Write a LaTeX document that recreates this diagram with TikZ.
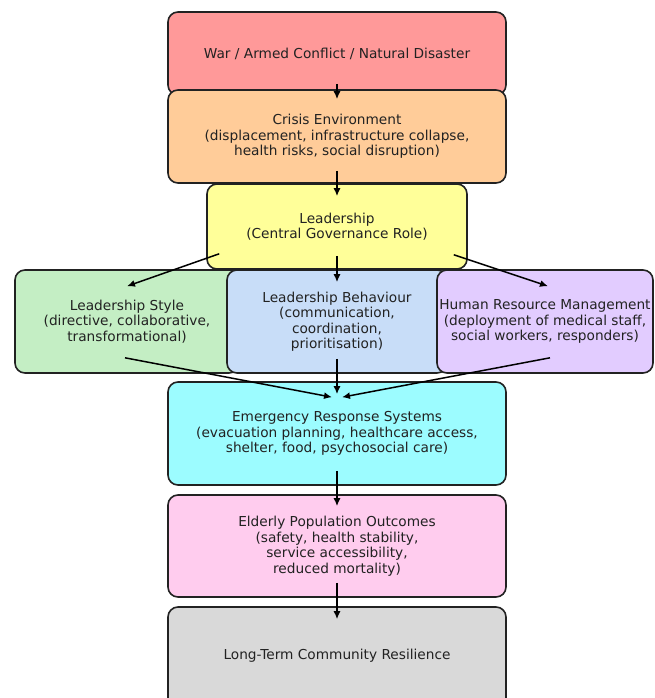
\documentclass[tikz,border=0pt]{standalone}
\usepackage{fontspec}
\setmainfont{DejaVu Sans}
\usetikzlibrary{arrows.meta,calc}
\definecolor{cred}{HTML}{FF9999}
\definecolor{corange}{HTML}{FFCC99}
\definecolor{cyellow}{HTML}{FFFF99}
\definecolor{cgreen}{HTML}{C4EEC4}
\definecolor{cblue}{HTML}{C8DDF8}
\definecolor{cpurple}{HTML}{E2CCFF}
\definecolor{ccyan}{HTML}{9CFCFF}
\definecolor{cpink}{HTML}{FFCCEE}
\definecolor{cgray}{HTML}{D9D9D9}
\definecolor{ink}{HTML}{222222}
\tikzset{
  box/.style={draw=ink, line width=1.6pt, rounded corners=10pt, inner sep=0pt,
    align=center, text=ink, font=\fontsize{13.7}{15.5}\selectfont},
  arr/.style={draw=black, line width=1.5pt, -{Latex[length=8pt,width=7pt]}}
}
\begin{document}
\begin{tikzpicture}[x=1pt,y=-1pt]
\useasboundingbox (0,0) rectangle (654,698);
\fill[white] (0,0) rectangle (654,698);
\node[box, fill=cred, minimum width=338pt, minimum height=83pt] (b1) at (337,53.5)
  {War / Armed Conflict / Natural Disaster};
\node[box, fill=corange, minimum width=338pt, minimum height=93pt] (b2) at (337,136.5)
  {Crisis Environment\\(displacement, infrastructure collapse,\\health risks, social disruption)};
\node[box, fill=cyellow, minimum width=260pt, minimum height=85pt] (b3) at (337,226.5)
  {Leadership\\(Central Governance Role)};
\node[box, fill=cgreen, minimum width=224pt, minimum height=103pt] (sty) at (127,321.5)
  {Leadership Style\\(directive, collaborative,\\transformational)};
\node[box, fill=cblue, minimum width=220pt, minimum height=103pt] (beh) at (337,321.5)
  {Leadership Behaviour\\(communication,\\coordination,\\prioritisation)};
\node[box, fill=cpurple, minimum width=216pt, minimum height=103pt] (hrm) at (545,321.5)
  {Human Resource Management\\(deployment of medical staff,\\social workers, responders)};
\node[box, fill=ccyan, minimum width=338pt, minimum height=103pt] (ers) at (337,433.5)
  {Emergency Response Systems\\(evacuation planning, healthcare access,\\shelter, food, psychosocial care)};
\node[box, fill=cpink, minimum width=338pt, minimum height=102pt] (epo) at (337,546)
  {Elderly Population Outcomes\\(safety, health stability,\\service accessibility,\\reduced mortality)};
\node[box, fill=cgray, minimum width=338pt, minimum height=102pt] (ltr) at (337,658)
  {\raisebox{8pt}{Long-Term Community Resilience}};
% connectors
\draw[arr] ([yshift=12pt]b1.south) -- ([yshift=-10pt]b2.north);
\draw[arr] ([yshift=13pt]b2.south) -- ([yshift=-13pt]b3.north);
\draw[arr] ([yshift=14pt]b3.south) -- ([yshift=-13pt]beh.north);
\draw[arr] ([shift={(13pt,16pt)}]b3.south west) -- ([yshift=-17pt]sty.north);
\draw[arr] ([shift={(-14pt,15pt)}]b3.south east) -- ([shift={(3pt,-17pt)}]hrm.north);
\draw[arr] ([shift={(-2pt,16pt)}]sty.south) -- ([shift={(-5pt,-16pt)}]ers.north);
\draw[arr] ([yshift=15pt]beh.south) -- ([yshift=-13pt]ers.north);
\draw[arr] ([shift={(5pt,16pt)}]hrm.south) -- ([shift={(5pt,-16pt)}]ers.north);
\draw[arr] ([yshift=15pt]ers.south) -- ([yshift=-12pt]epo.north);
\draw[arr] ([yshift=15pt]epo.south) -- ([yshift=-13pt]ltr.north);
\end{tikzpicture}
\end{document}
